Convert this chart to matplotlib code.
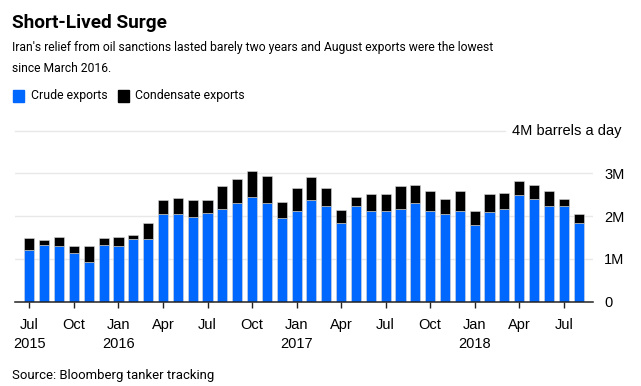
import matplotlib
matplotlib.use("Agg")
import matplotlib.pyplot as plt
from matplotlib.transforms import blended_transform_factory

# Monthly exports, Jul 2015 - Aug 2018 (million barrels a day)
months = ["Jul", "Aug", "Sep", "Oct", "Nov", "Dec"] + \
    ["Jan", "Feb", "Mar", "Apr", "May", "Jun", "Jul", "Aug", "Sep", "Oct", "Nov", "Dec"] * 2 + \
    ["Jan", "Feb", "Mar", "Apr", "May", "Jun", "Jul", "Aug"]
crude = [1.20, 1.33, 1.30, 1.13, 0.92, 1.33,
         1.30, 1.47, 1.47, 2.04, 2.04, 1.99, 2.07, 2.18, 2.30, 2.44, 2.32, 1.95,
         2.13, 2.37, 2.25, 1.84, 2.23, 2.13, 2.13, 2.18, 2.30, 2.12, 2.04, 2.12,
         1.80, 2.09, 2.16, 2.50, 2.41, 2.25, 2.25, 1.83]
total = [1.48, 1.45, 1.51, 1.30, 1.30, 1.48,
         1.52, 1.55, 1.83, 2.37, 2.43, 2.39, 2.39, 2.70, 2.88, 3.06, 2.93, 2.34,
         2.65, 2.91, 2.67, 2.14, 2.46, 2.51, 2.53, 2.70, 2.73, 2.58, 2.41, 2.58,
         2.13, 2.52, 2.55, 2.83, 2.73, 2.60, 2.41, 2.05]
condensate = [t - c for t, c in zip(total, crude)]
years = {0: "2015", 6: "2016", 18: "2017", 30: "2018"}

BLUE = "#0068FF"
W, H = 641, 386
head = ["Roboto", "DejaVu Sans"]
plt.rcParams["font.family"] = ["Liberation Sans", "DejaVu Sans"]

fig = plt.figure(figsize=(W / 100, H / 100), dpi=100)
renderer = fig.canvas.get_renderer()


def fit(t, width_px):
    # shrink/grow font so the text spans roughly the reference width
    w = t.get_window_extent(renderer).width
    t.set_fontsize(t.get_fontsize() * width_px / w)
    return t


ax = fig.add_axes([15 / W, (H - 301.7) / H, (593 - 15) / W, (301.7 - 130.7) / H])

x = list(range(len(months)))
ax.bar(x, crude, width=0.68, color=BLUE, edgecolor="#d8d8d8", linewidth=0.4, zorder=3)
ax.bar(x, condensate, bottom=crude, width=0.68, color="black",
       edgecolor="#d8d8d8", linewidth=0.4, zorder=3)

ax.set_xlim(-0.97, len(months) - 0.03)
ax.set_ylim(0, 4)
for v in [1, 2, 3]:
    ax.axhline(v, color="#e8e8e8", lw=1, zorder=1)
ax.axhline(4, xmax=(505 - 15) / (593 - 15), color="#e8e8e8", lw=1, zorder=1, clip_on=False)

for s in ["top", "left", "right"]:
    ax.spines[s].set_visible(False)
ax.spines["bottom"].set_color("#222222")
ax.spines["bottom"].set_linewidth(1.1)
ax.spines["bottom"].set_zorder(4)

ticks = x[::3]
ax.set_xticks(ticks)
ax.set_xticklabels([months[i] for i in ticks], fontsize=10.5)
ax.tick_params(axis="x", length=4, width=1, color="#222222", pad=8)

ax.yaxis.tick_right()
ax.set_yticks([0, 1, 2, 3])
ax.set_yticklabels(["0", "1M", "2M", "3M"], fontsize=10.5)
ax.tick_params(axis="y", length=0, pad=8)

tr = blended_transform_factory(fig.transFigure, ax.transData)
ax.text(622 / W, 4, "4M barrels a day", transform=tr, ha="right", va="center", fontsize=10.5)

ytr = blended_transform_factory(ax.transData, fig.transFigure)
for i, yr in years.items():
    ax.text(i, (H - 344) / H, yr, transform=ytr, ha="center", va="center", fontsize=10.5)

t = fig.text(12 / W, (H - 23) / H, "Short-Lived Surge", fontsize=15, fontweight="bold",
             family=head, va="center")
fit(t, 156)
line1 = "Iran's relief from oil sanctions lasted barely two years and August exports were the lowest"
t = fig.text(12 / W, (H - 48) / H, line1, fontsize=11, family=head, va="center")
fit(t, 478)
fig.text(12 / W, (H - 68) / H, "since March 2016.", fontsize=t.get_fontsize(),
         family=head, va="center")

fig.patches.append(plt.Rectangle((13 / W, (H - 102) / H), 11 / W, 12 / H, color=BLUE,
                                 transform=fig.transFigure, figure=fig))
t = fig.text(31 / W, (H - 96) / H, "Crude exports", fontsize=11, family=head, va="center")
fit(t, 76)
fig.patches.append(plt.Rectangle((118 / W, (H - 102) / H), 11 / W, 12 / H, color="black",
                                 transform=fig.transFigure, figure=fig))
fig.text(135 / W, (H - 96) / H, "Condensate exports", fontsize=t.get_fontsize(),
         family=head, va="center")

t = fig.text(12 / W, (H - 376) / H, "Source: Bloomberg tanker tracking", fontsize=10.5,
             family=head, va="center")
fit(t, 203)

fig.savefig("out.png", dpi=100, facecolor="white")
